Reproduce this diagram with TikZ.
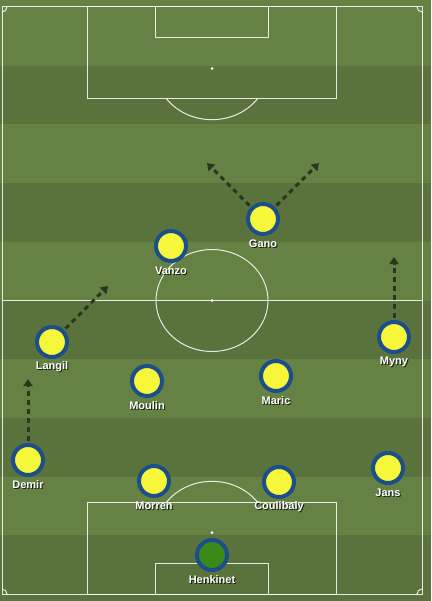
\documentclass[tikz,border=0pt]{standalone}
\usepackage{fontspec}
\setmainfont{Liberation Sans}
\usetikzlibrary{arrows.meta}
\definecolor{lightg}{RGB}{101,129,68}
\definecolor{darkg}{RGB}{90,115,61}
\definecolor{ringblue}{RGB}{28,78,140}
\definecolor{pyellow}{RGB}{246,246,58}
\definecolor{pgreen}{RGB}{58,138,26}
\definecolor{arrowc}{RGB}{40,55,30}
\tikzset{
  pline/.style={draw=white, draw opacity=0.85, line width=1pt},
  player/.style={circle, draw=ringblue, line width=4pt, fill=pyellow, minimum size=30pt, inner sep=0pt},
  keeper/.style={player, fill=pgreen},
  lbl/.style={text=white, font=\fontsize{11}{13}\selectfont\bfseries, inner sep=0pt},
  lblsh/.style={text=black, text opacity=0.75, font=\fontsize{11}{13}\selectfont\bfseries, inner sep=0pt},
  runarrow/.style={draw=arrowc, line width=3pt, dash pattern=on 5pt off 4pt, shorten <=2pt, -{Triangle[width=9pt,length=7pt]}},
}
\newcommand{\playerlabel}[4]{%
  \node[lblsh] (#1sh) at (#2+1,#3+26) {#4};
  \node[lbl] (#1lbl) at (#2,#3+25) {#4};
}
\begin{document}
\begin{tikzpicture}[x=1pt,y=-1pt]
\useasboundingbox (0,0) rectangle (431,601);
% stripes
\fill[lightg] (0,0) rectangle (431,601);
\foreach \i in {1,3,5,7,9} {
  \fill[darkg] (0,{7+\i*58.7}) rectangle (431,{7+(\i+1)*58.7});
}
\fill[darkg] (0,535) rectangle (431,601);
% pitch
\draw[pline] (2,7) rectangle (422,594);
\draw[pline] (2,300.5) -- (422,300.5);
\draw[pline] (212,300.5) ellipse [x radius=56, y radius=51];
\fill[white] (212,300.5) circle (1.5);
% top
\draw[pline] (87.5,7) rectangle (336.5,99);
\draw[pline] (155.5,7) rectangle (268.5,38);
\fill[white] (212,68.5) circle (1.5);
\begin{scope}
  \clip (0,99.5) rectangle (431,200);
  \draw[pline] (212,68.5) ellipse [x radius=56.5, y radius=51.2];
\end{scope}
% bottom
\draw[pline] (87.5,502) rectangle (336.5,594);
\draw[pline] (155.5,563) rectangle (268.5,594);
\fill[white] (212,532.5) circle (1.5);
\begin{scope}
  \clip (0,501.5) rectangle (431,400);
  \draw[pline] (212,532.5) ellipse [x radius=56.5, y radius=51.2];
\end{scope}
% corners
\begin{scope}
  \clip (2,7) rectangle (422,594);
  \draw[pline] (2,7) circle (5);
  \draw[pline] (422,7) circle (5);
  \draw[pline] (2,594) circle (5);
  \draw[pline] (422,594) circle (5);
\end{scope}
% players
\node[player] (gano) at (263,219) {};
\node[player] (vanzo) at (171,246) {};
\node[player] (langil) at (52,342) {};
\node[player] (moulin) at (147,381) {};
\node[player] (maric) at (276,376) {};
\node[player] (myny) at (394,337) {};
\node[player] (demir) at (28,460) {};
\node[player] (morren) at (154,481) {};
\node[player] (coulibaly) at (279,482) {};
\node[player] (jans) at (388,468) {};
\node[keeper] (henkinet) at (212,555) {};
\playerlabel{gano}{263}{219}{Gano}
\playerlabel{vanzo}{171}{246}{Vanzo}
\playerlabel{langil}{52}{342}{Langil}
\playerlabel{moulin}{147}{381}{Moulin}
\playerlabel{maric}{276}{376}{Maric}
\playerlabel{myny}{394}{337}{Myny}
\playerlabel{demir}{28}{460}{Demir}
\playerlabel{morren}{154}{481}{Morren}
\playerlabel{coulibaly}{279}{482}{Coulibaly}
\playerlabel{jans}{388}{468}{Jans}
\playerlabel{henkinet}{212}{555}{Henkinet}
% runs
\coordinate (ganoL) at (207,163);
\coordinate (ganoR) at (319,163);
\coordinate (langilT) at (108,286);
\coordinate (demirT) at (28,379);
\coordinate (mynyT) at (394,257);
\draw[runarrow] (gano) -- (ganoL);
\draw[runarrow] (gano) -- (ganoR);
\draw[runarrow] (langil) -- (langilT);
\draw[runarrow] (demir) -- (demirT);
\draw[runarrow] (myny) -- (mynyT);
\end{tikzpicture}
\end{document}
